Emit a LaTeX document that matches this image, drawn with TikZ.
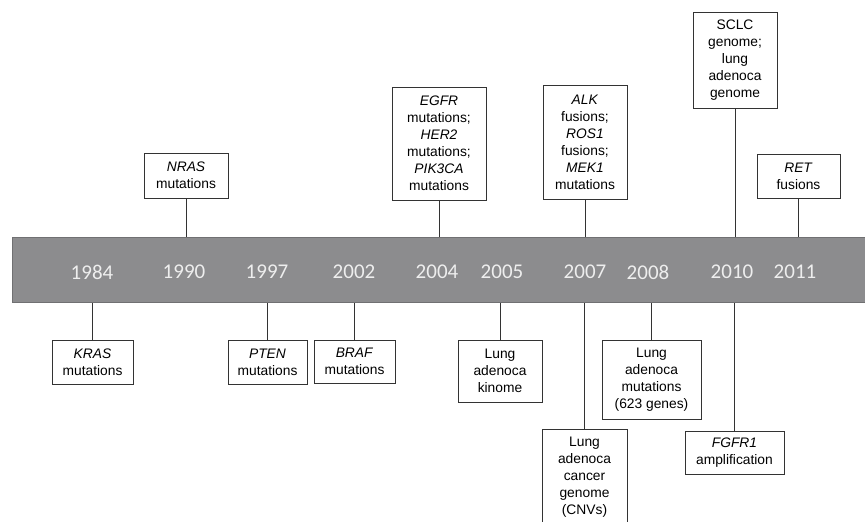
\documentclass[tikz,border=0pt]{standalone}
\usepackage{fontspec}
\setmainfont{Liberation Sans}
\newfontfamily\yearfont{Carlito}
\definecolor{barGray}{HTML}{8C8C8E}
\definecolor{barEdge}{HTML}{707072}
\definecolor{yearWhite}{HTML}{EEEEEE}
\tikzset{
  event/.style={draw=black!80, line width=0.8pt, fill=white, align=center, inner sep=0pt},
  stem/.style={line width=0.8pt, black!80},
  year/.style={text=yearWhite, font=\yearfont\fontsize{21}{24}\selectfont}
}
\begin{document}
\begin{tikzpicture}[x=1pt, y=-1pt, font=\fontsize{13.8}{17}\selectfont]
 \useasboundingbox (0,0) rectangle (865,522);

 %time bar
 \node[fill=barGray, draw=barEdge, line width=0.8pt, inner sep=0pt, minimum width=870pt, minimum height=65pt, anchor=north west] (bar) at (12,237) {};

 \foreach \x/\yr in {92/1984, 184/1990, 267/1997, 354/2002, 437/2004, 502/2005, 585/2007, 648/2008, 732/2010, 795/2011} {
         \node[year] (y\yr) at (\x,272) {\yr};
 }

 %events above the bar
 \node[event, minimum width=84pt, minimum height=45pt] (nras) at (186,175.5) {\textit{NRAS}\\mutations};
 \node[event, minimum width=94pt, minimum height=113pt] (egfr) at (439,143.5) {\textit{EGFR}\\mutations;\\\textit{HER2}\\mutations;\\\textit{PIK3CA}\\mutations};
 \node[event, minimum width=84pt, minimum height=114pt] (alk) at (585,142) {\textit{ALK}\\fusions;\\\textit{ROS1}\\fusions;\\\textit{MEK1}\\mutations};
 \node[event, minimum width=84pt, minimum height=96pt] (sclc) at (735,60) {SCLC\\genome;\\lung\\adenoca\\genome};
 \node[event, minimum width=83pt, minimum height=44pt] (ret) at (798.5,176) {\textit{RET}\\fusions};

 \foreach \n in {nras, egfr, alk, sclc, ret} {
         \draw[stem] (\n.south) -- (\n.south |- bar.north);
 }

 %events below the bar
 \node[event, minimum width=81pt, minimum height=44pt] (kras) at (92.5,362) {\textit{KRAS}\\mutations};
 \node[event, minimum width=79pt, minimum height=44pt] (pten) at (267.5,362) {\textit{PTEN}\\mutations};
 \node[event, minimum width=81pt, minimum height=43pt] (braf) at (354.5,361.5) {\textit{BRAF}\\mutations};
 \node[event, minimum width=84pt, minimum height=62pt] (kinome) at (500,371) {Lung\\adenoca\\kinome};
 \node[event, minimum width=85pt, minimum height=97pt] (cnv) at (584.5,477.5) {Lung\\adenoca\\cancer\\genome\\(CNVs)};
 \node[event, minimum width=99pt, minimum height=79pt] (genes) at (651.5,379.5) {Lung\\adenoca\\mutations\\(623 genes)};
 \node[event, minimum width=99pt, minimum height=43pt] (fgfr) at (734.5,452.5) {\textit{FGFR1}\\amplification};

 \foreach \n in {kras, pten, braf, kinome, cnv, genes, fgfr} {
         \draw[stem] (\n.north) -- (\n.north |- bar.south);
 }

\end{tikzpicture}
\end{document}
